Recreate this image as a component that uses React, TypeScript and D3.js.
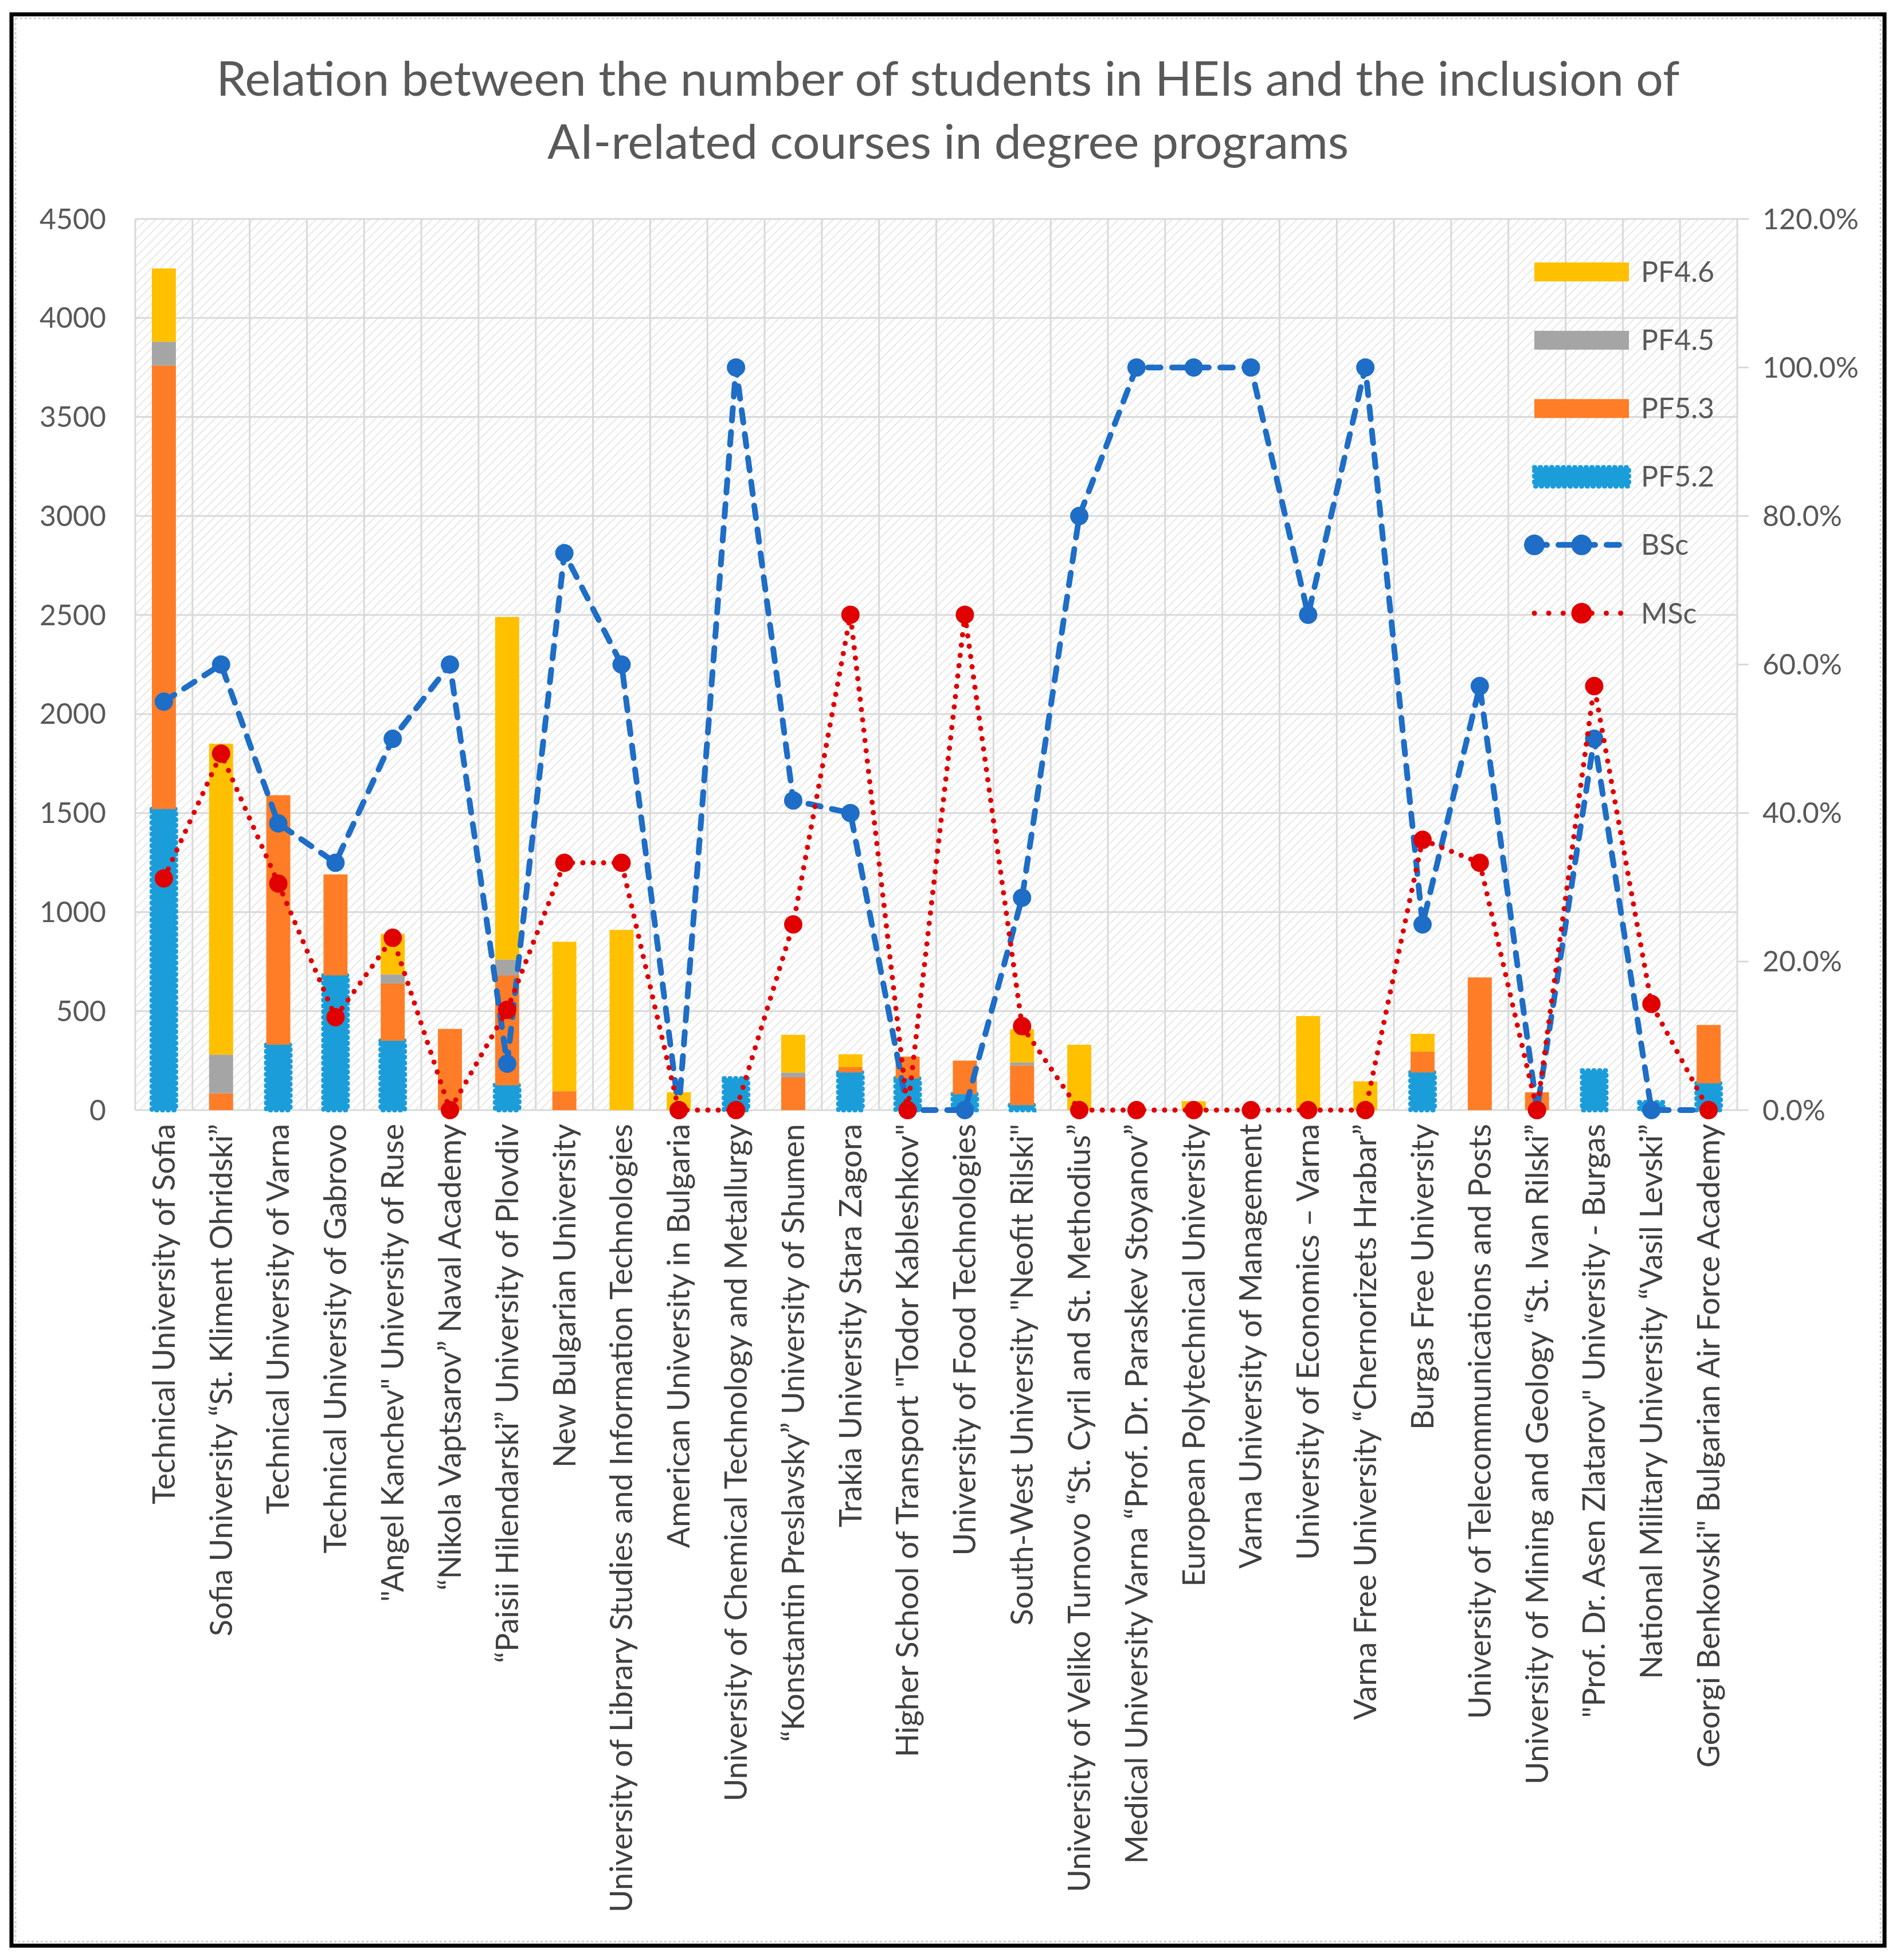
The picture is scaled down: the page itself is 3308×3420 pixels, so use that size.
import React from 'react';
import * as d3 from 'd3';

const categories = [
  'Technical University of Sofia',
  'Sofia University “St. Kliment Ohridski”',
  'Technical University of Varna',
  'Technical University of Gabrovo',
  '"Angel Kanchev" University of Ruse',
  '“Nikola Vaptsarov” Naval Academy',
  '“Paisii Hilendarski” University of Plovdiv',
  'New Bulgarian University',
  'University of Library Studies and Information Technologies',
  'American University in Bulgaria',
  'University of Chemical Technology and Metallurgy',
  '“Konstantin Preslavsky” University of Shumen',
  'Trakia University Stara Zagora',
  'Higher School of Transport "Todor Kableshkov"',
  'University of Food Technologies',
  'South-West University "Neofit Rilski"',
  'University of Veliko Turnovo “St. Cyril and St. Methodius”',
  'Medical University Varna “Prof. Dr. Paraskev Stoyanov”',
  'European Polytechnical University',
  'Varna University of Management',
  'University of Economics – Varna',
  'Varna Free University “Chernorizets Hrabar”',
  'Burgas Free University',
  'University of Telecommunications and Posts',
  'University of Mining and Geology “St. Ivan Rilski”',
  '"Prof. Dr. Asen Zlatarov" University - Burgas',
  'National Military University “Vasil Levski”',
  'Georgi Benkovski" Bulgarian Air Force Academy',
];

// students per professional field (stacked)
const pf52 = [1520, 0, 330, 680, 350, 0, 125, 0, 0, 0, 160, 0, 190, 160, 80, 25, 0, 0, 0, 0, 0, 0, 190, 0, 0, 200, 40, 135];
const pf53 = [2240, 85, 1260, 510, 290, 410, 555, 95, 0, 0, 0, 165, 27, 110, 170, 200, 0, 0, 0, 0, 0, 0, 105, 670, 90, 0, 0, 295];
const pf45 = [120, 195, 0, 0, 45, 0, 80, 0, 0, 0, 0, 25, 0, 0, 0, 16, 0, 0, 0, 0, 0, 0, 0, 0, 0, 0, 0, 0];
const pf46 = [370, 1570, 0, 0, 205, 0, 1730, 755, 910, 90, 0, 190, 65, 0, 0, 167, 330, 0, 45, 0, 475, 145, 90, 0, 0, 0, 0, 0];

// share of programmes with AI-related courses
const bsc = [0.55, 0.6, 0.386, 0.333, 0.5, 0.6, 0.0625, 0.75, 0.6, 0, 1, 0.417, 0.4, 0, 0, 0.286, 0.8, 1, 1, 1, 0.667, 1, 0.25, 0.571, 0, 0.5, 0, 0];
const msc = [0.312, 0.48, 0.305, 0.125, 0.232, 0, 0.135, 0.333, 0.333, 0, 0, 0.25, 0.667, 0, 0.667, 0.113, 0, 0, 0, 0, 0, 0, 0.364, 0.333, 0, 0.571, 0.143, 0];

const leftTicks = [0, 500, 1000, 1500, 2000, 2500, 3000, 3500, 4000, 4500];
const rightTicks = [0, 0.2, 0.4, 0.6, 0.8, 1.0, 1.2];

const barKeys = ['PF5.2', 'PF5.3', 'PF4.5', 'PF4.6'];
const barColors: Record<string, string> = {
  'PF5.2': '#1B9DDA',
  'PF5.3': '#FF7D27',
  'PF4.5': '#A5A5A5',
  'PF4.6': '#FFC000',
};
const legendOrder = ['PF4.6', 'PF4.5', 'PF5.3', 'PF5.2', 'BSc', 'MSc'];

const W = 3308;
const H = 3420;
const left = 236, right = 3031, top = 382, bottom = 1937;
const FONT = 'Lato, "Open Sans", sans-serif';
const BLUE_LINE = '#1E6DC6';
const RED = '#E00000';

export default function App() {
  const rows = categories.map((c, i) => ({
    name: c,
    'PF5.2': pf52[i],
    'PF5.3': pf53[i],
    'PF4.5': pf45[i],
    'PF4.6': pf46[i],
  }));

  const x = d3.scaleBand<string>().domain(categories).range([left, right]).padding(0);
  const y = d3.scaleLinear().domain([0, 4500]).range([bottom, top]);
  const y2 = d3.scaleLinear().domain([0, 1.2]).range([bottom, top]);
  const bw = x.bandwidth() * 0.42;
  const cx = (c: string) => (x(c) as number) + x.bandwidth() / 2;

  const stacked = d3.stack<any>().keys(barKeys)(rows);

  const pctLine = d3.line<number>()
    .x((_, i) => cx(categories[i]))
    .y(d => y2(d));

  const legendY = d3.scaleLinear().domain([0, 5]).range([474, 1070]);
  const swX0 = 2677, swX1 = 2842;

  return (
    <svg width={W} height={H} style={{ position: 'absolute', left: 0, top: 0 }} fontFamily={FONT}>
      <defs>
        <pattern id="hatch" width="11" height="11" patternUnits="userSpaceOnUse" patternTransform="rotate(45)">
          <rect width="11" height="11" fill="#ffffff" />
          <line x1="0" y1="0" x2="0" y2="11" stroke="#e0e0e0" strokeWidth="3" />
        </pattern>
      </defs>
      <rect x={0} y={0} width={W} height={H} fill="#ffffff" />
      <rect x={20} y={25} width={W - 40} height={H - 50} fill="none" stroke="#000" strokeWidth={7} />
      <rect x={27} y={32} width={W - 54} height={H - 64} fill="none" stroke="#d0d0d0" strokeWidth={3} strokeDasharray="4,4" />

      {/* title */}
      <text x={1654} y={167} textAnchor="middle" fontSize={84} fill="#595959">
        Relation between the number of students in HEIs and the inclusion of
      </text>
      <text x={1654} y={277} textAnchor="middle" fontSize={84} fill="#595959">
        AI-related courses in degree programs
      </text>

      {/* plot background */}
      <rect x={left} y={top} width={right - left} height={bottom - top} fill="url(#hatch)" />
      {leftTicks.map(t => (
        <line key={'h' + t} x1={left} x2={right} y1={y(t)} y2={y(t)} stroke="#d9d9d9" strokeWidth={3} />
      ))}
      {categories.map(c => (
        <line key={'v' + c} x1={x(c)} x2={x(c)} y1={top} y2={bottom} stroke="#d9d9d9" strokeWidth={3} />
      ))}
      <line x1={right} x2={right} y1={top} y2={bottom} stroke="#d9d9d9" strokeWidth={3} />
      {rightTicks.map(t => (
        <line key={'rt' + t} x1={right} x2={right + 20} y1={y2(t)} y2={y2(t)} stroke="#d9d9d9" strokeWidth={3} />
      ))}

      {/* left axis labels */}
      {leftTicks.map(t => (
        <text key={'lt' + t} x={185} y={y(t)} dy="0.35em" textAnchor="end" fontSize={50} fill="#595959">
          {t}
        </text>
      ))}
      {/* right axis labels */}
      {rightTicks.map(t => (
        <text key={'rl' + t} x={3075} y={y2(t)} dy="0.35em" textAnchor="start" fontSize={50} fill="#595959">
          {(t * 100).toFixed(1) + '%'}
        </text>
      ))}

      {/* stacked bars */}
      {stacked.map(layer => (
        <g key={layer.key}>
          {layer.map((d, i) => {
            const h = y(d[0]) - y(d[1]);
            if (h <= 0) return null;
            const isBlue = layer.key === 'PF5.2';
            return (
              <rect
                key={i}
                x={cx(categories[i]) - bw / 2}
                y={y(d[1])}
                width={bw}
                height={h}
                fill={barColors[layer.key]}
                stroke={isBlue ? barColors[layer.key] : 'none'}
                strokeWidth={isBlue ? 8 : 0}
                strokeDasharray={isBlue ? '1,9' : undefined}
                strokeLinecap="round"
              />
            );
          })}
        </g>
      ))}

      {/* x labels */}
      {categories.map(c => (
        <text
          key={'xl' + c}
          transform={`translate(${cx(c)},${bottom + 24}) rotate(-90)`}
          dy="0.35em"
          textAnchor="end"
          fontSize={54}
          fill="#404040"
        >
          {c}
        </text>
      ))}

      {/* BSc */}
      <path d={pctLine(bsc) || ''} fill="none" stroke={BLUE_LINE} strokeWidth={10} strokeDasharray="22,20" strokeLinecap="round" />
      {bsc.map((v, i) => (
        <circle key={'b' + i} cx={cx(categories[i])} cy={y2(v)} r={16} fill={BLUE_LINE} />
      ))}

      {/* MSc */}
      <path d={pctLine(msc) || ''} fill="none" stroke={RED} strokeWidth={9} strokeDasharray="0.1,18" strokeLinecap="round" />
      {msc.map((v, i) => (
        <circle key={'m' + i} cx={cx(categories[i])} cy={y2(v)} r={16} fill={RED} />
      ))}

      {/* legend */}
      {legendOrder.map((k, i) => {
        const ly = legendY(i);
        const mid = (swX0 + swX1) / 2;
        let sw: React.ReactNode;
        if (k === 'BSc') {
          sw = (
            <g>
              <line x1={swX0} x2={swX1} y1={ly} y2={ly} stroke={BLUE_LINE} strokeWidth={10} strokeDasharray="22,20" strokeLinecap="round" />
              <circle cx={swX0} cy={ly} r={18} fill={BLUE_LINE} />
              <circle cx={mid} cy={ly} r={18} fill={BLUE_LINE} />
            </g>
          );
        } else if (k === 'MSc') {
          sw = (
            <g>
              <line x1={swX0} x2={swX1} y1={ly} y2={ly} stroke={RED} strokeWidth={9} strokeDasharray="0.1,25" strokeLinecap="round" />
              <circle cx={mid} cy={ly} r={18} fill={RED} />
            </g>
          );
        } else {
          const blue = k === 'PF5.2';
          sw = (
            <rect
              x={swX0}
              y={ly - 16}
              width={swX1 - swX0}
              height={33}
              fill={barColors[k]}
              stroke={blue ? barColors[k] : 'none'}
              strokeWidth={blue ? 8 : 0}
              strokeDasharray={blue ? '1,9' : undefined}
              strokeLinecap="round"
            />
          );
        }
        return (
          <g key={'lg' + k}>
            {sw}
            <text x={2863} y={ly} dy="0.35em" fontSize={50} fill="#595959">
              {k}
            </text>
          </g>
        );
      })}
    </svg>
  );
}
